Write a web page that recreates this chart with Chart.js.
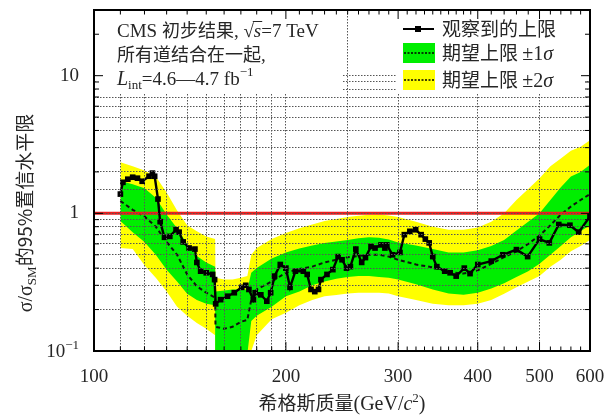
<!DOCTYPE html>
<html>
<head>
<meta charset="utf-8">
<script src="https://cdn.jsdelivr.net/npm/chart.js@4.4.1/dist/chart.umd.min.js"></script>
<style>
  html, body { margin: 0; padding: 0; background: #fff; }
</style>
</head>
<body>
<canvas id="myChart" width="605" height="419"></canvas>
<script>
// observed limit
const obsMass = [110, 111, 113, 115, 117, 119, 122, 123.5, 124.5, 126,
  127, 129, 131.5, 134.5, 136, 138, 141, 144, 145, 147,
  150, 153.5, 154.6, 155.2, 158, 162, 166, 170.5, 173, 175,
  177.8, 179, 182.7, 186.7, 189.3, 192, 196, 200, 203, 207,
  213, 216, 219, 222, 225, 227, 232, 237, 241.5, 245,
  249, 252.5, 257.5, 263, 266.6, 272, 276, 282, 286, 288,
  294, 302, 306.8, 313, 319.6, 326, 331, 335.6, 340, 345,
  355, 362, 370, 381, 389, 400, 420, 438, 460, 479,
  500, 518, 536, 558, 576, 600];
const obsLimit = [1.38, 1.68, 1.77, 1.83, 1.8, 1.71, 1.86, 1.96, 1.86, 1.27,
  0.87, 0.67, 0.68, 0.76, 0.73, 0.62, 0.56, 0.55, 0.44, 0.38,
  0.37, 0.36, 0.33, 0.22, 0.236, 0.25, 0.265, 0.29, 0.30, 0.28,
  0.236, 0.265, 0.256, 0.23, 0.265, 0.35, 0.425, 0.40, 0.29, 0.38,
  0.38, 0.36, 0.28, 0.27, 0.28, 0.33, 0.36, 0.39, 0.485, 0.46,
  0.40, 0.41, 0.55, 0.44, 0.477, 0.575, 0.56, 0.59, 0.56, 0.59,
  0.50, 0.52, 0.70, 0.74, 0.76, 0.70, 0.65, 0.61, 0.485, 0.41,
  0.38, 0.37, 0.35, 0.40, 0.365, 0.425, 0.45, 0.50, 0.545, 0.485,
  0.65, 0.61, 0.83, 0.82, 0.73, 0.95];

// expected limit and bands
const bandMass = [110, 115, 120, 125, 130, 135, 140, 145, 150, 154.9,
  155.1, 160, 165, 170, 174, 176.5, 180, 190, 200, 210,
  220, 230, 240, 250, 260, 270, 280, 290, 300,
  320, 340, 360, 380, 400, 420, 440, 460, 480, 500,
  520, 540, 560, 580, 600];
const expMedian = [1.23, 1.06, 0.95, 0.8, 0.62, 0.5, 0.36, 0.295, 0.265, 0.244,
  0.15, 0.145, 0.15, 0.163, 0.168, 0.236, 0.28, 0.32, 0.37, 0.395,
  0.41, 0.44, 0.46, 0.48, 0.49, 0.5, 0.5, 0.485, 0.46,
  0.425, 0.405, 0.375, 0.365, 0.385, 0.43, 0.48, 0.53, 0.6, 0.69,
  0.82, 0.98, 1.12, 1.25, 1.38];
const oneSigmaHi = [1.72, 1.63, 1.52, 1.3, 0.98, 0.78, 0.6, 0.49, 0.44, 0.41,
  0.27, 0.275, 0.28, 0.28, 0.28, 0.37, 0.4, 0.47, 0.52, 0.555,
  0.585, 0.61, 0.625, 0.64, 0.66, 0.67, 0.665, 0.645, 0.615,
  0.585, 0.55, 0.52, 0.52, 0.54, 0.58, 0.64, 0.75, 0.87, 1.0,
  1.25, 1.55, 1.85, 2.0, 2.25];
const oneSigmaLo = [0.88, 0.73, 0.62, 0.5, 0.39, 0.32, 0.26, 0.235, 0.22, 0.215,
  0.09, 0.09, 0.09, 0.09, 0.095, 0.165, 0.18, 0.21, 0.25, 0.27,
  0.3, 0.32, 0.335, 0.345, 0.35, 0.35, 0.345, 0.34, 0.33,
  0.305, 0.28, 0.262, 0.256, 0.265, 0.285, 0.31, 0.345, 0.38, 0.43,
  0.5, 0.58, 0.67, 0.74, 0.82];
const twoSigmaHi = [2.35, 2.2, 2.05, 1.85, 1.42, 1.05, 0.82, 0.74, 0.68, 0.65,
  0.34, 0.33, 0.33, 0.34, 0.35, 0.5, 0.56, 0.65, 0.72, 0.78,
  0.83, 0.88, 0.91, 0.94, 0.96, 0.975, 0.98, 0.965, 0.94,
  0.87, 0.8, 0.76, 0.76, 0.79, 0.87, 1.0, 1.25, 1.5, 1.8,
  2.2, 2.5, 2.85, 3.05, 3.4];
const twoSigmaLo = [0.56, 0.55, 0.42, 0.34, 0.27, 0.21, 0.18, 0.16, 0.145, 0.13,
  0.09, 0.09, 0.09, 0.09, 0.09, 0.1, 0.13, 0.17, 0.19, 0.215,
  0.235, 0.25, 0.255, 0.262, 0.265, 0.265, 0.265, 0.262, 0.25,
  0.235, 0.22, 0.215, 0.215, 0.22, 0.235, 0.26, 0.29, 0.32, 0.35,
  0.41, 0.46, 0.53, 0.58, 0.64];

// SM reference line
const refMass = [100, 600];
const refValue = [1, 1];

// axis ticks
const xLabels = [100, 200, 300, 400, 500, 600];
const xMinor = [110, 120, 130, 140, 150, 160, 170, 180, 190,
  210, 220, 230, 240, 250, 260, 270, 280, 290,
  310, 320, 330, 340, 350, 360, 370, 380, 390,
  420, 440, 460, 480, 520, 540, 560, 580];
const yMajor = [0.1, 1, 10];
const yMinor = [0.2, 0.3, 0.4, 0.5, 0.6, 0.7, 0.8, 0.9, 2, 3, 4, 5, 6, 7, 8, 9, 20];

const serif = '"Liberation Serif", "Noto Sans CJK SC", serif';
const cjk = '"Noto Sans CJK SC", sans-serif';
const ink = '#262626';

function pts(xs, ys) {
  return xs.map((x, i) => ({ x: x, y: ys[i] }));
}

// draw a row of text pieces, returns width
function runs(ctx, x, y, parts, dry) {
  let cx = x;
  parts.forEach(p => {
    ctx.font = p.f;
    const w = ctx.measureText(p.t).width;
    if (!dry) {
      ctx.fillText(p.t, cx, y + (p.dy || 0));
      if (p.over) {
        ctx.beginPath();
        ctx.lineWidth = 1;
        ctx.moveTo(cx - 1, y - 15.5);
        ctx.lineTo(cx + w + 1, y - 15.5);
        ctx.stroke();
      }
    }
    cx += w;
  });
  return cx - x;
}

function seg(ctx, x1, y1, x2, y2) {
  ctx.beginPath();
  ctx.moveTo(x1, y1);
  ctx.lineTo(x2, y2);
  ctx.stroke();
}

const decor = {
  id: 'decor',
  afterDraw(chart) {
    const { ctx, chartArea: a } = chart;
    const x = chart.scales.x, y = chart.scales.y;
    ctx.save();

    // boxes behind the texts
    ctx.fillStyle = '#fff';
    ctx.fillRect(a.left + 2, a.top + 1, 246, 82);
    ctx.fillRect(396, a.top + 1, 191, 82);

    // inner ticks
    ctx.strokeStyle = '#000';
    ctx.lineWidth = 1;
    xLabels.concat(xMinor).forEach(v => {
      const px = x.getPixelForValue(v);
      const len = xLabels.includes(v) ? 9 : 4.5;
      seg(ctx, px, a.bottom, px, a.bottom - len);
      seg(ctx, px, a.top, px, a.top + len);
    });
    yMajor.concat(yMinor).forEach(v => {
      const py = y.getPixelForValue(v);
      const len = yMajor.includes(v) ? 9 : 5;
      seg(ctx, a.left, py, a.left + len, py);
      seg(ctx, a.right, py, a.right - len, py);
    });

    // frame
    ctx.lineWidth = 2;
    ctx.strokeRect(a.left, a.top, a.right - a.left, a.bottom - a.top);

    ctx.fillStyle = ink;
    ctx.strokeStyle = ink;
    ctx.textBaseline = 'alphabetic';
    ctx.textAlign = 'left';

    // 10^-1 label
    const p01 = y.getPixelForValue(0.1);
    const lab = [
      { t: '10', f: '19px ' + serif },
      { t: '\u22121', f: '13px ' + serif, dy: -8 }
    ];
    const lw = runs(ctx, 0, 0, lab, true);
    runs(ctx, 79 - lw, p01 + 6, lab);

    // text block
    runs(ctx, 117, 37, [
      { t: 'CMS ', f: '19px ' + serif },
      { t: '初步结果', f: '18px ' + cjk },
      { t: ', \u221A', f: '19px ' + serif },
      { t: 's', f: 'italic 19px ' + serif, over: true },
      { t: '=7 TeV', f: '19px ' + serif }
    ]);
    runs(ctx, 117, 61, [
      { t: '所有道结合在一起', f: '18px ' + cjk },
      { t: ',', f: '19px ' + serif }
    ]);
    runs(ctx, 117, 85, [
      { t: 'L', f: 'italic 20px ' + serif },
      { t: 'int', f: '13px ' + serif, dy: 4 },
      { t: '=4.6\u20144.7 fb', f: '19px ' + serif },
      { t: '\u22121', f: '13px ' + serif, dy: -9 }
    ]);

    // legend
    ctx.strokeStyle = '#000';
    ctx.lineWidth = 2;
    seg(ctx, 403, 29, 434, 29);
    ctx.fillStyle = '#000';
    ctx.fillRect(415, 26, 6, 6);
    ctx.fillStyle = '#00ee00';
    ctx.fillRect(403, 43, 32, 20);
    ctx.fillStyle = '#ffff00';
    ctx.fillRect(403, 70, 32, 20);
    ctx.lineWidth = 1.5;
    ctx.setLineDash([2, 1.5]);
    seg(ctx, 404, 53, 434, 53);
    seg(ctx, 404, 80, 434, 80);
    ctx.setLineDash([]);

    ctx.fillStyle = ink;
    runs(ctx, 442, 36, [{ t: '观察到的上限', f: '19px ' + cjk }]);
    runs(ctx, 442, 60, [
      { t: '期望上限 ', f: '19px ' + cjk },
      { t: '\u00B11', f: '20px ' + serif },
      { t: '\u03C3', f: 'italic 20px ' + serif }
    ]);
    runs(ctx, 442, 87, [
      { t: '期望上限 ', f: '19px ' + cjk },
      { t: '\u00B12', f: '20px ' + serif },
      { t: '\u03C3', f: 'italic 20px ' + serif }
    ]);

    // x title
    const xt = [
      { t: '希格斯质量', f: '19px ' + cjk },
      { t: '(GeV/', f: '20px ' + serif },
      { t: 'c', f: 'italic 20px ' + serif },
      { t: '2', f: '13px ' + serif, dy: -8 },
      { t: ')', f: '20px ' + serif }
    ];
    const xw = runs(ctx, 0, 0, xt, true);
    runs(ctx, 342 - xw / 2, 410, xt);

    // y title
    const yt = [
      { t: '\u03C3/\u03C3', f: '20px ' + serif },
      { t: 'SM', f: '13px ' + serif, dy: 4 },
      { t: '的95%置信水平限', f: '19px ' + cjk }
    ];
    const yw = runs(ctx, 0, 0, yt, true);
    ctx.translate(32, 213);
    ctx.rotate(-Math.PI / 2);
    runs(ctx, -yw / 2, 0, yt);

    ctx.restore();
  }
};

const ctx = document.getElementById('myChart').getContext('2d');
const myChart = new Chart(ctx, {
  type: 'line',
  data: {
    datasets: [
      {
        label: '观察到的上限',
        data: pts(obsMass, obsLimit),
        borderColor: '#000',
        backgroundColor: '#000',
        borderWidth: 2.4,
        pointStyle: 'rect',
        pointRadius: 4,
        pointBorderWidth: 0,
        order: 0
      },
      {
        label: 'SM',
        data: pts(refMass, refValue),
        borderColor: '#ee1c1c',
        borderWidth: 3,
        pointRadius: 0,
        order: 1
      },
      {
        label: '期望上限',
        data: pts(bandMass, expMedian),
        borderColor: '#111',
        borderWidth: 2,
        borderDash: [4, 3],
        pointRadius: 0,
        order: 2
      },
      {
        label: '±1σ hi',
        data: pts(bandMass, oneSigmaHi),
        borderWidth: 0,
        pointRadius: 0,
        fill: 4,
        backgroundColor: '#00ee00',
        order: 3
      },
      {
        label: '±1σ lo',
        data: pts(bandMass, oneSigmaLo),
        borderWidth: 0,
        pointRadius: 0,
        order: 3
      },
      {
        label: '±2σ hi',
        data: pts(bandMass, twoSigmaHi),
        borderWidth: 0,
        pointRadius: 0,
        fill: 6,
        backgroundColor: '#ffff00',
        order: 4
      },
      {
        label: '±2σ lo',
        data: pts(bandMass, twoSigmaLo),
        borderWidth: 0,
        pointRadius: 0,
        order: 4
      }
    ]
  },
  options: {
    responsive: false,
    animation: false,
    layout: { padding: 0 },
    plugins: { legend: { display: false }, tooltip: { enabled: false } },
    elements: { line: { tension: 0 } },
    scales: {
      x: {
        type: 'logarithmic',
        min: 100,
        max: 600,
        afterFit: s => {
          s.height = 68;
          s.paddingLeft = 0;
          s.paddingRight = 15;
        },
        grid: { color: '#555', lineWidth: 1, drawTicks: false, z: 1 },
        border: { display: false, dash: [1.5, 1.5] },
        ticks: {
          autoSkip: false,
          maxRotation: 0,
          padding: 15,
          color: ink,
          font: { family: serif, size: 19 },
          callback: v => xLabels.includes(v) ? String(v) : ''
        }
      },
      y: {
        type: 'logarithmic',
        min: 0.1,
        max: 30,
        afterFit: s => {
          s.width = 94;
          s.paddingTop = 10;
          s.paddingBottom = 0;
        },
        grid: {
          color: c => (c.tick && c.tick.value > 10.5) ? 'rgba(0,0,0,0)' : '#555',
          lineWidth: 1,
          drawTicks: false,
          z: 1
        },
        border: { display: false, dash: [1.5, 1.5] },
        ticks: {
          autoSkip: false,
          padding: 15,
          color: ink,
          font: { family: serif, size: 19 },
          callback: v => Math.abs(v - 1) < 1e-6 ? '1' : (Math.abs(v - 10) < 1e-6 ? '10' : '')
        }
      }
    }
  },
  plugins: [decor]
});
</script>
</body>
</html>
